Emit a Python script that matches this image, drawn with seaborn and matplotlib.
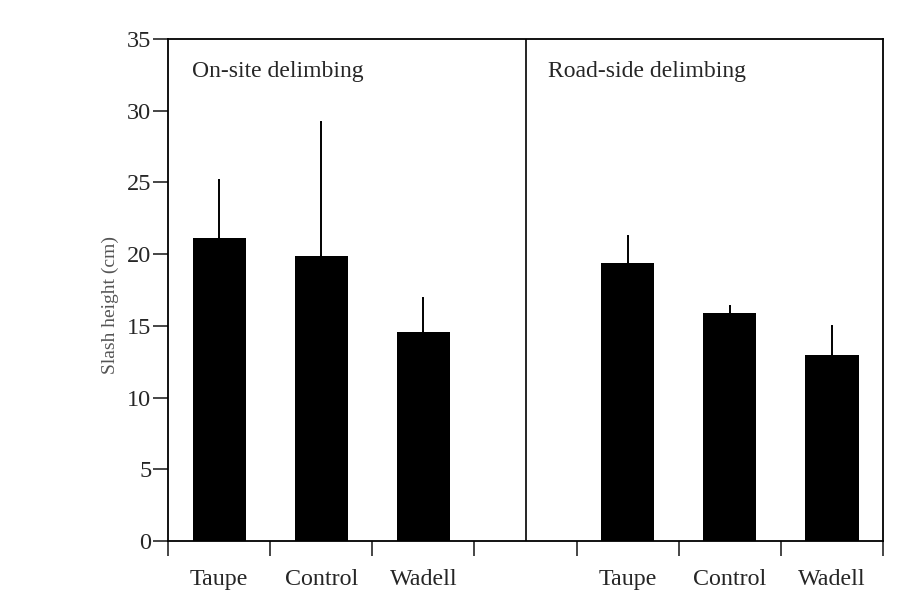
import matplotlib
matplotlib.use("Agg")
import matplotlib.pyplot as plt
import seaborn as sns
import pandas as pd

# ---- data ----
slots = ["On-Taupe", "On-Control", "On-Wadell", "gap", "Road-Taupe", "Road-Control", "Road-Wadell"]
slot_labels = ["Taupe", "Control", "Wadell", "", "Taupe", "Control", "Wadell"]
bar_keys = ["On-Taupe", "On-Control", "On-Wadell", "Road-Taupe", "Road-Control", "Road-Wadell"]
means = [21.1, 19.9, 14.55, 19.35, 15.9, 13.0]
upper = [25.15, 29.2, 16.95, 21.3, 16.35, 15.0]
panel_titles = ["On-site delimbing", "Road-side delimbing"]
y_ticks = [0, 5, 10, 15, 20, 25, 30, 35]

df = pd.DataFrame({"slot": bar_keys, "mean": means, "upper": upper})

sns.set_style("white")
plt.rcParams["font.family"] = ["Liberation Serif", "DejaVu Serif"]

fig = plt.figure(figsize=(9.23, 6.06), dpi=100)
ax = fig.add_axes([0.182, 0.1073, 0.7747, 0.8283])

sns.barplot(data=df, x="slot", y="mean", order=slots, color="black",
            width=0.52, saturation=1, errorbar=None, ax=ax, edgecolor="black", linewidth=0)

pos = [slots.index(k) for k in bar_keys]
errs = [u - m for u, m in zip(upper, means)]
ax.errorbar(pos, means, yerr=[[0] * len(errs), errs], fmt="none",
            ecolor="black", elinewidth=1.4, capsize=1.0, capthick=1.4)

ax.set_xlim(-0.5, len(slots) - 0.5)
ax.set_ylim(0, 35)
ax.set_yticks(y_ticks)
ax.set_yticklabels([str(v) for v in y_ticks])

# boundaries as major ticks, labels as minor ticks
ax.set_xticks([i - 0.5 for i in range(len(slots) + 1)])
ax.set_xticklabels([])
ax.set_xticks(range(len(slots)), minor=True)
ax.set_xticklabels(slot_labels, minor=True)
ax.tick_params(axis="x", which="major", direction="out", length=11, width=1.2, bottom=True)
ax.tick_params(axis="x", which="minor", length=0, pad=20, labelsize=17.3)
ax.tick_params(axis="y", direction="out", length=11, width=1.2, pad=1, labelsize=17.5, left=True)

# divider between panels
ax.axvline(slots.index("gap"), color="black", linewidth=1.2)

for s in ["left", "right", "top", "bottom"]:
    ax.spines[s].set_visible(True)
    ax.spines[s].set_color("black")
    ax.spines[s].set_linewidth(1.3)

ax.set_xlabel("")
ax.set_ylabel("Slash height (cm)", fontsize=14, color="#555555")
ax.yaxis.set_label_coords(-0.068, 0.47)

ax.text(0.034, 0.935, panel_titles[0], transform=ax.transAxes,
        fontsize=17, va="center", ha="left")
ax.text(0.532, 0.935, panel_titles[1], transform=ax.transAxes,
        fontsize=17, va="center", ha="left")

fig.savefig("out.png", dpi=100)
